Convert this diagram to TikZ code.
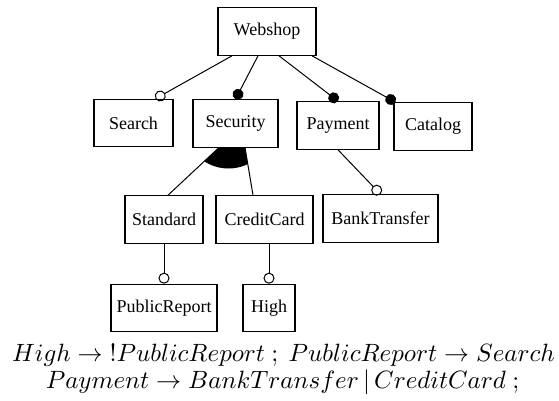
\documentclass[tikz,border=0pt]{standalone}
\usepackage{fontspec}
\setmainfont{Liberation Serif}
\usetikzlibrary{arrows.meta,calc,backgrounds}

\begin{document}
\begin{tikzpicture}[x=0.4pt, y=-0.4pt,
	feat/.style={draw, fill=white, line width=0.45pt, inner sep=0pt,
		minimum height=19pt, font=\fontsize{7.2}{8.6}\selectfont},
	link/.style={line width=0.4pt},
	opt/.style={link, -{Circle[open, length=4.4pt, width=4.4pt]}},
	mand/.style={link, -{Circle[length=4.4pt, width=4.4pt]}},
	rule/.style={anchor=base, inner sep=0pt}]
	
	% Marco de la figura
	\useasboundingbox (0,0) rectangle (559,400);
	
	% Caracteristicas
	\node[feat, minimum width=39.2pt] (webshop) at (267,31.5) {Webshop};
	\node[feat, minimum width=31.6pt] (search) at (133.5,123) {Search};
	\node[feat, minimum width=34pt] (security) at (235.5,123.5) {Security};
	\node[feat, minimum width=32.8pt] (payment) at (338,125.5) {Payment};
	\node[feat, minimum width=31.2pt] (catalog) at (433,126.5) {Catalog};
	\node[feat, minimum width=31.2pt] (standard) at (164,219.5) {Standard};
	\node[feat, minimum width=38.8pt] (creditcard) at (264.5,219.5) {CreditCard};
	\node[feat, minimum width=46pt] (banktransfer) at (380.5,218.5) {BankTransfer};
	\node[feat, minimum width=42.4pt] (publicreport) at (164,308) {PublicReport};
	\node[feat, minimum width=20.8pt] (high) at (269,308) {High};
	
	% Aristas opcionales y obligatorias
	\draw[opt] ($(webshop.south)+(-35,0)$) -- ($(search.north)+(22,0)$);
	\draw[mand] ($(webshop.south)+(-9,0)$) -- (security.north);
	\draw[mand] ($(webshop.south)+(12,0)$) -- (payment.north);
	\draw[mand] ($(webshop.south)+(45,0)$) -- ($(catalog.north west)+(2,0)$);
	\draw[opt] (payment.south) -- (banktransfer.north);
	\draw[opt] (standard.south) -- (publicreport.north);
	\draw[opt] (high.north |- creditcard.south) -- (high.north);
	
	% Grupo "or" debajo de Security
	\begin{scope}[on background layer]
		\coordinate (apex) at ($(security.center)+(6,3)$);
		\coordinate (stdtop) at ($(standard.north)+(4,0)$);
		\coordinate (cctop) at ($(creditcard.north)+(-11.5,0)$);
		\draw[link] (apex) -- (stdtop);
		\draw[link] (apex) -- (cctop);
		\begin{scope}
			\clip ($(security.center)+(-7,0.5)$) circle (17.8pt);
			\fill (apex) -- (stdtop) -- (cctop) -- cycle;
		\end{scope}
	\end{scope}
	
	% Restricciones
	\node[rule] (rule1) at (283.5,361) {$High \rightarrow\; !PublicReport\ ;\ PublicReport \rightarrow Search$};
	\node[rule] (rule2) at (282.5,388) {$Payment \rightarrow BankTransfer\,|\,CreditCard\ ;$};
	
\end{tikzpicture}
\end{document}
